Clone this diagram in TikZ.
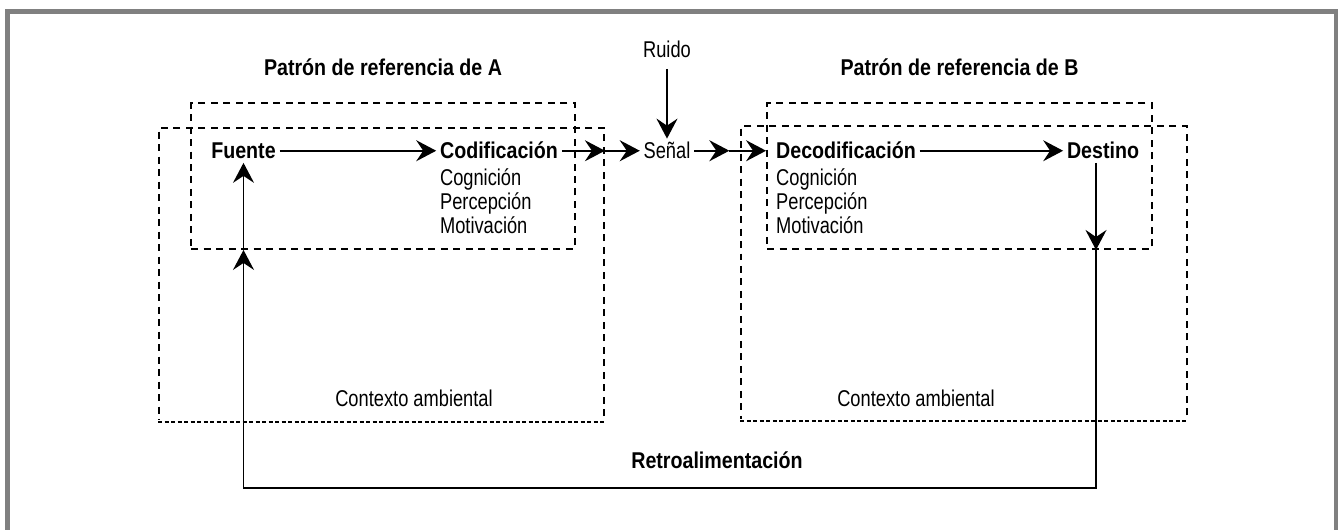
\documentclass[tikz,border=0pt]{standalone}
\usepackage{fontspec}
\setmainfont{Liberation Sans}[FakeStretch=0.8]
\newfontfamily\negrita{Liberation Sans Bold}[FakeStretch=0.86]
\usetikzlibrary{arrows.meta,calc}
\definecolor{marcogris}{RGB}{128,128,128}
\tikzstyle{texto} = [inner sep=2pt, font=\fontsize{13}{13.66}\selectfont, text height=9.4pt, text depth=0pt, anchor=base]
\tikzstyle{bloque} = [texto, font=\negrita\fontsize{13}{13.66}\selectfont]
\tikzstyle{lista} = [inner sep=2pt, font=\fontsize{13}{13.66}\selectfont, align=left, anchor=north west]
\tikzset{
  recuadro/.style={
    rectangle,
    draw,
    line width=1.1pt,
    dash pattern=on 0.14cm off 0.11cm % dashed frame of each pattern
  },
  bordefino/.style={
    line width=1.1pt,
    dash pattern=on 0.08cm off 0.05cm % finer dashes along the bottom
  }
}
\tikzstyle{arrow} = [line width=1.1pt,-{Stealth[length=4mm,width=4.2mm,inset=1.4mm]}]

\begin{document}
\begin{tikzpicture}[x=0.02cm, y=-0.02cm]
    \useasboundingbox (0,0) rectangle (1338,530);
    \draw[marcogris, line width=0.1cm] (7.5,530) -- (7.5,12) -- (1336,12) -- (1336,530);

    \node (inA)[recuadro, minimum width=7.68cm, minimum height=2.92cm] at (383,176) {};
    \node (outA)[recuadro, minimum width=8.9cm, minimum height=5.87cm] at (381.5,274.4) {};
    \node (inB)[recuadro, minimum width=7.7cm, minimum height=2.92cm] at (959.5,176) {};
    \node (outB)[recuadro, minimum width=8.91cm, minimum height=5.88cm] at (964,273) {};
    \draw[white, line width=2pt] (outA.south west) -- (outA.south east);
    \draw[bordefino] (outA.south west) -- (outA.south east);
    \draw[white, line width=2pt] (outB.south west) -- (outB.south east);
    \draw[bordefino] (outB.south west) -- (outB.south east);

    \node (patA)[bloque] at (383,76) {Patrón de referencia de A};
    \node (patB)[bloque] at (959.5,76) {Patrón de referencia de B};
    \node (ruido)[texto] at (667,58) {Ruido};
    \node (fuente)[bloque] at (243.5,159) {Fuente};
    \node (cod)[bloque] at (499,159) {Codificación};
    \node (codlist)[lista] at ($(cod.south west)+(0,1.5)$) {Cognición\\Percepción\\Motivación};
    \node (senal)[texto] at (667,159) {Señal};
    \node (decod)[bloque] at (846,159) {Decodificación};
    \node (decodlist)[lista] at ($(decod.south west)+(0,1.5)$) {Cognición\\Percepción\\Motivación};
    \node (dest)[bloque] at (1103,159) {Destino};
    \node (ctxA)[texto] at (414,406) {Contexto ambiental};
    \node (ctxB)[texto] at (916,406) {Contexto ambiental};
    \node (retro)[bloque] at (717,468) {Retroalimentación};

    \draw[arrow] (fuente) -- (cod);
    \draw[arrow] (cod) -- (cod -| outA.east);
    \draw[arrow] (cod -| outA.east) -- (senal);
    \coordinate (sB) at ($(senal -| outB.west)+(-11,0)$);
    \draw[arrow] (senal) -- (sB);
    \draw[arrow] (sB) -- (senal -| inB.west);
    \draw[arrow] (decod) -- (dest);
    \draw[arrow, shorten <=0.14cm] (ruido) -- (senal);

    \coordinate (d0) at ($(dest.south)+(-7,0)$);
    \coordinate (fb) at (0,488);
    \draw[arrow] (d0) -- (d0 |- inB.south);
    \draw[arrow] (d0 |- inB.south) -- (d0 |- fb) -| (fuente.south |- inA.south);
    \draw[arrow] (fuente.south |- inA.south) -- (fuente);
\end{tikzpicture}
\end{document}
